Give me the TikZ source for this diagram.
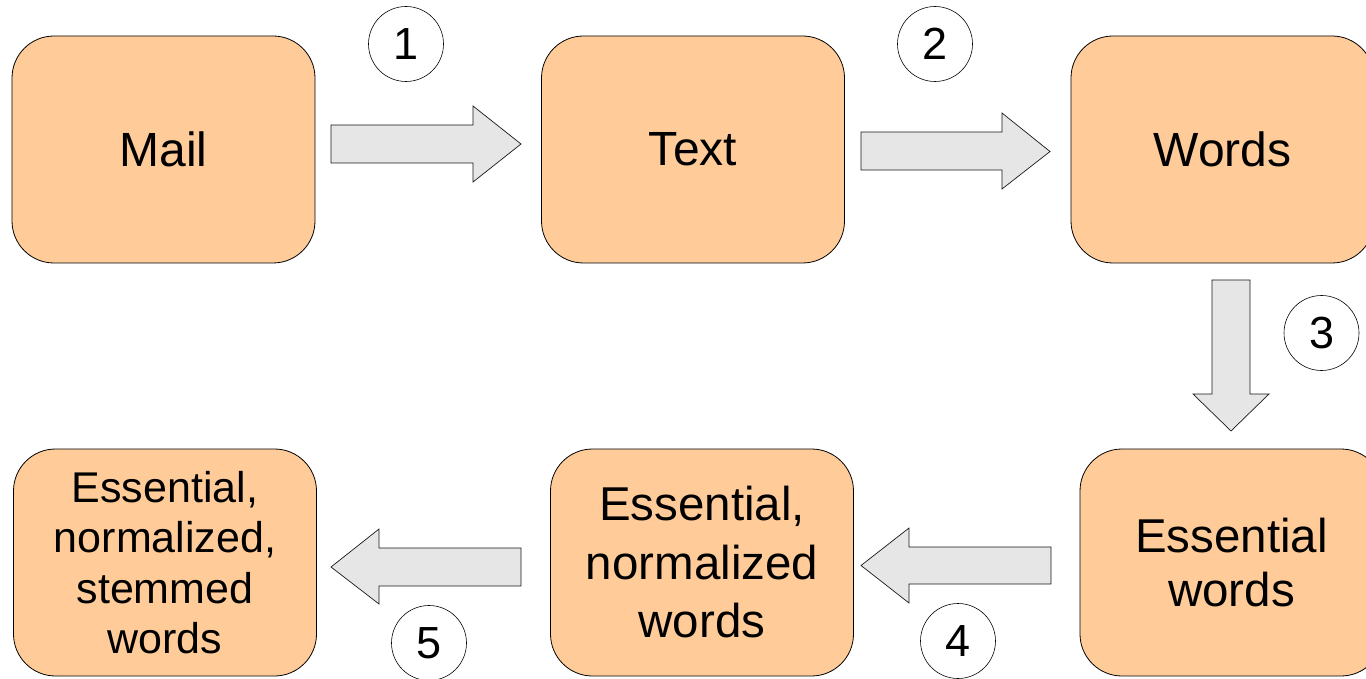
\documentclass[tikz,border=0pt]{standalone}
\usepackage{fontspec}
\setmainfont{Liberation Sans}
\definecolor{boxfill}{HTML}{FFCC99}
\definecolor{arrowfill}{HTML}{E6E6E6}
\begin{document}
\begin{tikzpicture}[x=1pt,y=-1pt,
  stage/.style={draw=black, line width=0.8pt, fill=boxfill, rounded corners=42pt,
    minimum width=303pt, minimum height=227pt, inner sep=0pt, align=center,
    font=\fontsize{48}{55}\selectfont},
  stepnum/.style={circle, draw=black, line width=0.6pt, fill=white,
    minimum size=75pt, inner sep=0pt, font=\fontsize{45}{45}\selectfont},
  blockarrow/.style={draw=black!90, line width=0.7pt, fill=arrowfill, line join=miter}]
\useasboundingbox (0,0) rectangle (1366,679);

% processing stages
\node[stage] (mail)  at (163.5,149.5) {Mail};
\node[stage] (text)  at (693,149.5)   {Text};
\node[stage] (words) at (1222.5,149.5) {Words};
\node[stage, font=\fontsize{47.5}{54.5}\selectfont] (ess)  at (1231.5,562.5) {Essential\\words};
\node[stage, font=\fontsize{47.5}{58.5}\selectfont] (norm) at (702,562.5) {Essential,\\normalized\\words};
\node[stage, font=\fontsize{43}{50.5}\selectfont]   (stem) at (165,562.5) {Essential,\\normalized,\\stemmed\\words};

% block arrows between stages
\draw[blockarrow] (331,125) -- (473,125) -- (473,106) -- (521,144) -- (473,182) -- (473,163) -- (331,163) -- cycle;
\draw[blockarrow] (861,132) -- (1002,132) -- (1002,113) -- (1050,151.5) -- (1002,189) -- (1002,170) -- (861,170) -- cycle;
\draw[blockarrow] (1212,280) -- (1250,280) -- (1250,394) -- (1269,394) -- (1231,431) -- (1193,394) -- (1212,394) -- cycle;
\draw[blockarrow] (1051,547) -- (909,547) -- (909,528) -- (861,565.5) -- (909,603) -- (909,584) -- (1051,584) -- cycle;
\draw[blockarrow] (521,548) -- (379,548) -- (379,529) -- (331,567) -- (379,604) -- (379,586) -- (521,586) -- cycle;

% step numbers
\node[stepnum] (n1) at (406,44)     {1};
\node[stepnum] (n2) at (935,44)     {2};
\node[stepnum] (n3) at (1321.5,333) {3};
\node[stepnum] (n4) at (958,641)    {4};
\node[stepnum] (n5) at (429,643)    {5};
\end{tikzpicture}
\end{document}
